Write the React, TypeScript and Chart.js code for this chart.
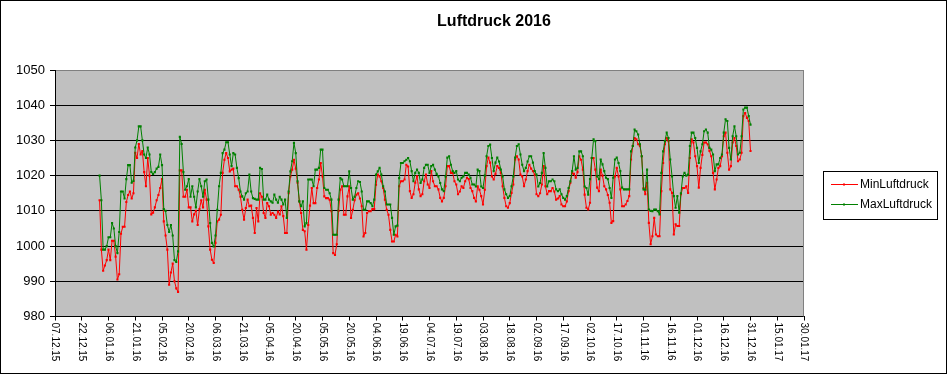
import React, { useEffect, useRef } from 'react';
import { Chart, registerables } from 'chart.js';

Chart.register(...registerables);

const chartTitle = 'Luftdruck 2016';
const seriesNames = ['MinLuftdruck', 'MaxLuftdruck'];

// x axis: day ticks every 15 days, first tick = 07.12.15
const xTickLabels = [
  '07.12.15', '22.12.15', '06.01.16', '21.01.16', '05.02.16', '20.02.16', '06.03.16', '21.03.16',
  '05.04.16', '20.04.16', '05.05.16', '20.05.16', '04.06.16', '19.06.16', '04.07.16', '19.07.16',
  '03.08.16', '18.08.16', '02.09.16', '17.09.16', '02.10.16', '17.10.16', '01.11.16', '16.11.16',
  '01.12.16', '16.12.16', '31.12.16', '15.01.17', '30.01.17',
];
const tickStepDays = 15;
const firstDataDay = 25; // 01.01.16 counted from 07.12.15

const yMin = 980;
const yMax = 1050;
const yStep = 10;

// daily values 01.01.16 .. 31.12.16
const maxLuftdruck = [
  1020, 1013, 999, 999, 1000, 1002.5, 1002.5, 1006.5, 1005, 1000, 998, 1004, 1015.5, 1015.5, 1013.5, 1019,
  1023, 1023, 1018, 1018.5, 1028, 1030, 1034, 1034, 1030, 1026, 1025, 1028, 1026, 1021, 1020.5,
  1021, 1022, 1022.5, 1026, 1023, 1010.5, 1010, 1006, 1004, 1006, 1003, 996, 995.5, 998.5, 1031, 1029,
  1021, 1016, 1017, 1019, 1014, 1017, 1014, 1011, 1015.5, 1019, 1017, 1014,
  1018.4, 1018.9, 1013.2, 1006.5, 1000.9, 999.9, 1003, 1010.3, 1017, 1020.8, 1026.4, 1027.4, 1029.5, 1029.5,
  1026, 1022.7, 1026.4, 1026, 1022.2, 1019.3, 1015.5, 1014.1, 1013.2, 1015, 1015.5, 1020.3, 1015.5, 1013.6,
  1013.4, 1013.2, 1013.2, 1022.2, 1021.9, 1013.2, 1013.2, 1014.6, 1013.2, 1012.7, 1012.3, 1014.6, 1013.2,
  1012.3, 1014, 1013.2, 1011.8, 1013.2, 1008, 1015.5, 1021.2, 1024.1, 1029.3, 1026.4, 1018.4, 1012.7, 1011.3,
  1012.7, 1005.6, 1006.5, 1018.9, 1018.9,
  1018.9, 1017, 1021.7, 1021.7, 1022.2, 1027.4, 1027.4, 1016.5, 1016, 1016, 1015, 1013.2, 1003.2, 1003.2,
  1003.2, 1013.2, 1019.3, 1018.9, 1017, 1017, 1017, 1021.2, 1016.5, 1013.2, 1014, 1016.5, 1018.4, 1018.2,
  1015.5, 1010.3, 1010.3, 1012.7, 1012.7, 1012.2, 1011.3, 1013.2, 1020.3, 1021.2, 1022.2, 1020.3, 1017,
  1015.5, 1011.8, 1011.8, 1011.8, 1008, 1003.2, 1005.6, 1005.8, 1019.3, 1023.6, 1023.6, 1024.1, 1024.5, 1025,
  1024.1, 1021.3, 1018.4, 1020.8, 1021.7, 1020.8, 1017.9, 1018.9, 1022.2, 1023.1, 1023.1, 1020.8, 1022.7,
  1023.1, 1021.7, 1020.5, 1019.8, 1017.9, 1016.1, 1015.6, 1019.8, 1025.1, 1025.5, 1023.1, 1021.3, 1020.8,
  1021.3, 1018.9, 1018.4, 1019.4, 1019.8, 1020.8, 1020.8, 1020.3, 1019.4, 1017.5, 1017.5, 1016.9, 1021.7,
  1021.3, 1016.9, 1016.5, 1020, 1025.5, 1028.4, 1028.8, 1025, 1021.3, 1023.7, 1025.1, 1024, 1021.7, 1019.8,
  1016.1, 1014.7, 1013.7, 1014.2, 1017, 1019.8, 1025.1, 1028.4, 1028.9, 1026, 1023.1, 1021.3, 1022.2, 1024,
  1025.5, 1025.5, 1023.7, 1021.3, 1020.3, 1016.9, 1017.9, 1020.8, 1026.4, 1022.2, 1016.9, 1018.4, 1018.4,
  1018.9, 1018.4, 1016.1, 1015.6, 1016.1, 1014.7, 1013.7, 1013.2, 1014.2, 1016.5, 1018.4, 1021.3, 1025.5,
  1021.7, 1022.2,
  1026.9, 1026.9, 1025.5, 1016.9, 1016.5, 1014.6, 1019, 1025, 1030.3, 1029.8, 1019.8, 1019, 1024.6, 1023.2,
  1021.3, 1019.4, 1019, 1016.5, 1013.7, 1019.4, 1024.6, 1025.1, 1023.6, 1021.3, 1016.6, 1016.1, 1016.1,
  1016.1, 1016.1, 1026.9, 1028.4, 1033.1, 1032.6, 1031.7, 1028.9, 1025.5, 1016.1, 1016, 1021.7, 1010.4,
  1010, 1009.9, 1010.4, 1010.4, 1009.9, 1009, 1020.8, 1026.9, 1029.8, 1032.2, 1030.7, 1024.6, 1019.8, 1014.2,
  1010.9, 1014.2, 1009.5, 1015, 1019.8, 1020.8, 1020, 1020.3, 1028.4, 1032.2, 1032.2, 1030.7, 1027.9, 1023.6,
  1026.9, 1028.9, 1032.6, 1033.1, 1032.2, 1027.9, 1027.4, 1026, 1021.3, 1023.2, 1023.2, 1025, 1026, 1032.2,
  1036, 1035.5, 1027.9, 1024.6, 1031.2, 1034, 1031.2, 1026, 1026.5, 1031.2, 1038.8, 1039.3, 1039.3, 1036.9,
  1034.5,
];

const minLuftdruck = [
  1013, 999, 993, 994.5, 996, 999, 996, 1001.5, 1001.5, 997, 990.5, 992, 1003.5, 1005.5, 1005.5, 1012.5,
  1014.5, 1015.5, 1013.5, 1015, 1026.5, 1025, 1029, 1026, 1027, 1021, 1017, 1025, 1020, 1009, 1009.5,
  1011, 1013, 1014.5, 1016.5, 1019, 1007, 1003, 999, 989, 992.5, 995, 990, 988, 987, 1021.5, 1021.5,
  1014, 1014, 1016, 1011, 1011, 1007, 1009, 1010, 1006, 1010.5, 1013, 1011,
  1016, 1013.2, 1005.6, 999, 996.1, 995.2, 1000.9, 1007, 1007.5, 1008.9, 1020.8, 1024.5, 1026.4, 1025,
  1021.2, 1021.7, 1022, 1017, 1017, 1016, 1014, 1010.3, 1007.5, 1010.8, 1013.2, 1011.3, 1011.5, 1008,
  1003.7, 1010.8, 1007, 1015, 1014, 1009.4, 1008, 1012.2, 1011.3, 1008.9, 1009.4, 1008.9, 1008,
  1009.8, 1009, 1011.3, 1008.5, 1003.7, 1003.7, 1015, 1019.8, 1021.7, 1024.5, 1022, 1018, 1012.7, 1009.4,
  1004.6, 1004.2, 999, 1006, 1011.5,
  1016.5, 1012.2, 1012.2, 1016.5, 1018.9, 1023.6, 1019.8, 1014.1, 1013.6, 1013.6, 1013.2, 1009.9, 998, 997.5,
  1000.5, 1010, 1016, 1017, 1008.9, 1008.9, 1014.1, 1017, 1008, 1010.3, 1013, 1014.6, 1015, 1013.5,
  1011.3, 1002.7, 1003.7, 1009.4, 1009.9, 1009.9, 1010.5, 1010.5, 1017.4, 1020.3, 1019.8, 1018.4, 1016.5,
  1013.2, 1010.3, 1008.9, 1004.6, 1001.3, 1001.3, 1003.2, 1002.7, 1017, 1018.4, 1018.4, 1018.9, 1023.1, 1022.6,
  1015.6, 1013.7, 1014.7, 1018, 1019.8, 1016.1, 1014.2, 1014.7, 1018.4, 1020.3, 1017.5, 1016.5, 1021.3,
  1018.4, 1017, 1017, 1016.1, 1013.7, 1012.7, 1013.7, 1017, 1022.7, 1022.7, 1020.8, 1020.8, 1018.4,
  1017.5, 1014.7, 1015.5, 1017, 1016.5, 1018.4, 1019.4, 1019, 1016.5, 1015.6, 1013.7, 1012.7, 1017,
  1016, 1014.2, 1011.8, 1016, 1022.7, 1025.1, 1023.7, 1019.8, 1018.9, 1020.5, 1022.7, 1022.2, 1020.8, 1017,
  1013.7, 1011.3, 1010.9, 1012.2, 1015.1, 1017.5, 1024.6, 1025.5, 1024.6, 1020.3, 1019.8, 1017, 1018.9, 1021.3,
  1023.1, 1022, 1021.3, 1020.3, 1014.7, 1014.2, 1015, 1017.5, 1022.7, 1017, 1014.7, 1015.6, 1015.6,
  1016.5, 1015.5, 1013.2, 1013.5, 1014.2, 1011.8, 1011.3, 1011.3, 1012.7, 1015.6, 1018, 1020.8, 1020.5,
  1019.4, 1021,
  1025.5, 1024.5, 1021.7, 1014.6, 1010.9, 1010.4, 1012.3, 1025, 1025, 1021.7, 1016.6, 1015.6, 1021.7, 1020,
  1017, 1016.1, 1014.5, 1012.3, 1006.6, 1007.1, 1019.8, 1022.2, 1019.8, 1016.1, 1011.3, 1011.3, 1011.8,
  1012.8, 1014.2, 1024.6, 1028.4, 1030.7, 1030.3, 1028.9, 1028.4, 1025.5, 1016.5, 1014.7, 1018, 1006.6,
  1000.5, 1002.8, 1008, 1003.3, 1002.8, 1002.8, 1015.6, 1023.6, 1028.9, 1030.7, 1029.8, 1016.1, 1015.1, 1003.3,
  1006.2, 1005.7, 1005.7, 1014.7, 1016.5, 1016.5, 1017, 1015.1, 1025, 1030.3, 1029.4, 1025.5, 1022.7, 1016.6,
  1022.2, 1025.9, 1029.4, 1029.4, 1028.9, 1027, 1025.5, 1020.8, 1016.1, 1018.9, 1022.2, 1022.7, 1025.5, 1031.2,
  1032.2, 1026.5, 1021.7, 1022.7, 1029.4, 1030.7, 1028.4, 1024.1, 1024.6, 1026.5, 1036.9, 1037.8, 1036.4, 1035.5,
  1027,
];

const FONT = "'Liberation Sans', Arial, sans-serif";
const MIN_COLOR = '#ff0000';
const MAX_COLOR = '#008000';

const decorPlugin = {
  id: 'excelDecor',
  beforeDraw(chart: any) {
    const { ctx, chartArea: a, width, height } = chart;
    ctx.save();
    ctx.fillStyle = '#ffffff';
    ctx.fillRect(0, 0, width, height);
    ctx.fillStyle = '#c0c0c0';
    ctx.fillRect(a.left, a.top, a.right - a.left, a.bottom - a.top);
    ctx.restore();
  },
  beforeDatasetsDraw(chart: any) {
    const { ctx, chartArea: a } = chart;
    ctx.save();
    ctx.strokeStyle = '#808080';
    ctx.lineWidth = 1;
    ctx.beginPath();
    ctx.moveTo(Math.round(a.right) - 0.5, a.top);
    ctx.lineTo(Math.round(a.right) - 0.5, a.bottom);
    ctx.stroke();
    ctx.restore();
  },
  afterDraw(chart: any) {
    const { ctx, width, height } = chart;
    const xs = chart.scales.x;
    const bottom = chart.chartArea.bottom;
    ctx.save();
    // outer frame
    ctx.strokeStyle = '#000000';
    ctx.lineWidth = 1;
    ctx.strokeRect(0.5, 0.5, width - 2, height - 2);

    // rotated x tick labels (reading downward)
    ctx.fillStyle = '#000000';
    ctx.font = `10px ${FONT}`;
    ctx.textAlign = 'left';
    ctx.textBaseline = 'middle';
    xTickLabels.forEach((lab, i) => {
      const px = xs.getPixelForValue(i * tickStepDays);
      ctx.save();
      ctx.translate(px, bottom + 6);
      ctx.rotate(Math.PI / 2);
      ctx.fillText(lab, 0, 0);
      ctx.restore();
    });

    // title
    ctx.font = `bold 16px ${FONT}`;
    ctx.textAlign = 'center';
    ctx.textBaseline = 'middle';
    ctx.fillText(chartTitle, 494, 22);

    // legend
    const lx = 823;
    const ly = 171;
    const lw = 114;
    const lh = 48;
    ctx.strokeStyle = '#000000';
    ctx.strokeRect(lx + 0.5, ly + 0.5, lw, lh);
    const colors = [MIN_COLOR, MAX_COLOR];
    seriesNames.forEach((name, i) => {
      const cy = ly + 13 + i * 20;
      ctx.strokeStyle = colors[i];
      ctx.fillStyle = colors[i];
      ctx.beginPath();
      ctx.moveTo(lx + 8, cy + 0.5);
      ctx.lineTo(lx + 35, cy + 0.5);
      ctx.stroke();
      ctx.fillRect(lx + 20, cy - 0.5, 2, 2);
      ctx.fillStyle = '#000000';
      ctx.font = `12px ${FONT}`;
      ctx.textAlign = 'left';
      ctx.textBaseline = 'middle';
      ctx.fillText(name, lx + 37, cy + 1);
    });
    ctx.restore();
  },
};

export default function App() {
  const canvasRef = useRef<HTMLCanvasElement | null>(null);

  useEffect(() => {
    document.body.style.margin = '0';
    const canvas = canvasRef.current;
    if (!canvas) return;
    const toPoints = (arr: number[]) => arr.map((v, i) => ({ x: i + firstDataDay, y: v }));
    const chart = new Chart(canvas, {
      type: 'line',
      data: {
        datasets: [
          {
            label: seriesNames[1],
            data: toPoints(maxLuftdruck),
            borderColor: MAX_COLOR,
            backgroundColor: MAX_COLOR,
            borderWidth: 1,
            pointStyle: 'rect',
            pointRadius: 1.5,
            pointBorderWidth: 0,
            tension: 0,
            order: 0,
          },
          {
            label: seriesNames[0],
            data: toPoints(minLuftdruck),
            borderColor: MIN_COLOR,
            backgroundColor: MIN_COLOR,
            borderWidth: 1,
            pointStyle: 'rect',
            pointRadius: 1.5,
            pointBorderWidth: 0,
            tension: 0,
            order: 1,
          },
        ],
      },
      options: {
        responsive: false,
        animation: false,
        events: [],
        layout: { padding: { top: 70, right: 144, left: 0, bottom: 0 } },
        plugins: {
          legend: { display: false },
          title: { display: false },
          tooltip: { enabled: false },
        },
        scales: {
          x: {
            type: 'linear',
            min: 0,
            max: (xTickLabels.length - 1) * tickStepDays,
            afterBuildTicks: (s: any) => {
              s.ticks = xTickLabels.map((_, i) => ({ value: i * tickStepDays }));
            },
            afterFit: (s: any) => {
              s.height = 58.5;
            },
            ticks: { display: false },
            grid: { drawOnChartArea: false, drawTicks: true, tickLength: 4, color: '#000000' },
            border: { color: '#000000', width: 1 },
          },
          y: {
            min: yMin,
            max: yMax,
            afterFit: (s: any) => {
              s.width = 55;
            },
            ticks: {
              stepSize: yStep,
              color: '#000000',
              padding: 5,
              font: { family: FONT, size: 13 },
              callback: (v: any) => String(v),
            },
            grid: {
              color: (c: any) => (c.tick && c.tick.value === yMax ? '#808080' : '#000000'),
              tickColor: '#000000',
              tickLength: 5,
              lineWidth: 1,
            },
            border: { color: '#000000', width: 1 },
          },
        },
      },
      plugins: [decorPlugin],
    });
    return () => chart.destroy();
  }, []);

  return (
    <div style={{ width: 948, height: 375 }}>
      <canvas ref={canvasRef} width={948} height={375} style={{ display: 'block' }} />
    </div>
  );
}
